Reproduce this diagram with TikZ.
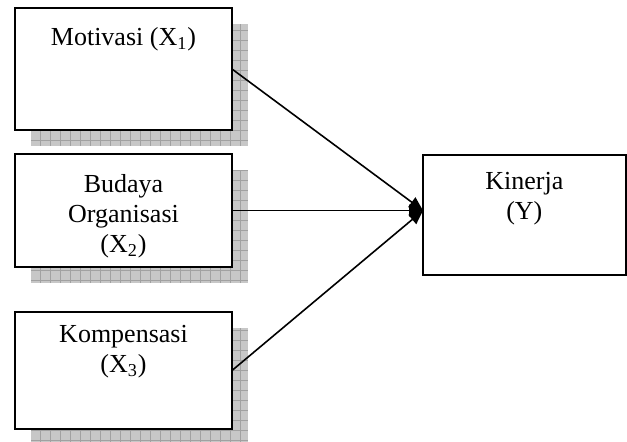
\documentclass[tikz,border=0pt]{standalone}
\usepackage{fontspec}
\setmainfont{Liberation Serif}
\usetikzlibrary{arrows.meta,positioning,calc,backgrounds}

\begin{document}
\begin{tikzpicture}[
    node distance=12pt,
    box/.style={draw, line width=1pt, fill=white, minimum width=108.5pt, inner sep=0pt, outer sep=0pt},
    lbl/.style={anchor=north, align=center, inner sep=0pt, font=\fontsize{13}{15}\selectfont},
    arrow/.style={-{Triangle[length=7pt, width=6pt]}, line width=0.8pt},
    shade/.style={fill=black!22},
    shadegrid/.style={draw=black!37, line width=0.4pt}
]
\useasboundingbox (0,0) rectangle (313.5pt,-220.5pt);
% the three independent variables
\node[box, minimum height=61pt] (motivasi) at (61.75pt,-34.5pt) {};
\node[box, minimum height=56.5pt, below=12pt of motivasi] (budaya) {};
\node[box, minimum height=58.5pt, below=22.5pt of budaya] (kompensasi) {};
% dependent variable
\node[box, minimum width=101.3pt, minimum height=60pt] (kinerja) at (262.15pt,-107.5pt) {};
\coordinate (tip) at (kinerja.west |- budaya.east);

\node[lbl, below=9.5pt of motivasi.north] (motivasi-t) {Motivasi (X\textsubscript{1})};
\node[lbl, below=10pt of budaya.north] (budaya-t) {Budaya\\Organisasi\\(X\textsubscript{2})};
\node[lbl, below=6.5pt of kompensasi.north] (kompensasi-t) {Kompensasi\\(X\textsubscript{3})};
\node[lbl, below=8.5pt of kinerja.north] (kinerja-t) {Kinerja\\(Y)};

% shadows
\begin{scope}[on background layer]
\foreach \b in {motivasi,budaya,kompensasi}{
  \path[shade] ($(\b.south west)+(8pt,-8pt)$) rectangle ($(\b.north east)+(8pt,-8pt)$);
  \draw[shadegrid, step=5pt] ($(\b.south west)+(8pt,-8pt)$) grid ($(\b.north east)+(8pt,-8pt)$);
}
\end{scope}

\foreach \b in {motivasi,budaya,kompensasi}
  \draw[arrow] (\b.east) -- (tip);
\end{tikzpicture}
\end{document}
